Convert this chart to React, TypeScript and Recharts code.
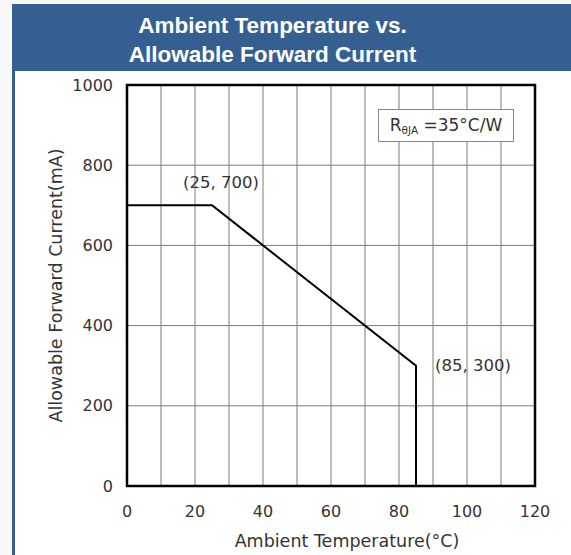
import React from "react";
import {
  CartesianGrid,
  Label,
  Line,
  LineChart,
  ReferenceArea,
  ReferenceDot,
  XAxis,
  YAxis,
} from "recharts";

// derating curve: ambient temperature (°C) vs allowable forward current (mA)
const temps = [0, 25, 85, 85];
const currents = [700, 700, 300, 0];

const xTicks = [0, 20, 40, 60, 80, 100, 120];
const yTicks = [0, 200, 400, 600, 800, 1000];
const xGrid = [0, 10, 20, 30, 40, 50, 60, 70, 80, 90, 100, 110, 120];

const kneeStart = { t: 25, i: 700, text: "(25, 700)" };
const kneeEnd = { t: 85, i: 300, text: "(85, 300)" };

const chartData = temps.map((t, idx) => ({ temp: t, current: currents[idx] }));

const FONT = "'DejaVu Sans', Verdana, sans-serif";
const INK = "#333";
const tickStyle = { fill: INK, fontSize: 16, fontFamily: FONT };
const titleStyle = { fill: INK, fontSize: 17.5, fontFamily: FONT };
const noteStyle = { fill: INK, fontSize: 16.5, fontFamily: FONT };

export default function App() {
  return (
    <div
      style={{
        position: "absolute",
        left: 0,
        top: 0,
        width: 571,
        height: 555,
        background: "#f8f8f8",
        overflow: "hidden",
      }}
    >
      {/* panel with header bar and left accent stripe */}
      <div
        style={{
          position: "absolute",
          left: 12,
          top: 4,
          width: 559,
          height: 551,
          background: "#fff",
          borderLeft: "3px solid #365f91",
          boxSizing: "border-box",
        }}
      />
      <div
        style={{
          position: "absolute",
          left: 12,
          top: 4,
          width: 521,
          height: 67,
          background: "#365f91",
          color: "#fff",
          fontFamily: "'Liberation Sans', Arial, sans-serif",
          fontWeight: "bold",
          fontSize: 22.5,
          lineHeight: "29px",
          textAlign: "center",
          paddingTop: 7,
          boxSizing: "border-box",
        }}
      >
        Ambient Temperature vs.
        <br />
        Allowable Forward Current
      </div>
      <div
        style={{
          position: "absolute",
          left: 533,
          top: 4,
          width: 38,
          height: 67,
          background: "#365f91",
        }}
      />

      <div style={{ position: "absolute", left: 0, top: 0 }}>
        <LineChart
          width={571}
          height={555}
          data={chartData}
          margin={{ top: 85, right: 36, bottom: 39, left: 67 }}
        >
          <CartesianGrid
            stroke="#7a7a7a"
            strokeWidth={1}
            verticalValues={xGrid}
            horizontalValues={yTicks}
          />
          <XAxis
            dataKey="temp"
            type="number"
            domain={[0, 120]}
            ticks={xTicks}
            tick={tickStyle}
            tickLine={false}
            axisLine={false}
            tickMargin={14}
            height={30}
            interval={0}
          >
            <Label
              value="Ambient Temperature(°C)"
              position="bottom"
              offset={19}
              dx={16}
              style={titleStyle}
            />
          </XAxis>
          <YAxis
            type="number"
            domain={[0, 1000]}
            ticks={yTicks}
            tick={tickStyle}
            tickLine={false}
            axisLine={false}
            tickMargin={8}
            width={60}
            interval={0}
          >
            <Label
              value="Allowable Forward Current(mA)"
              angle={-90}
              position="center"
              dx={-41}
              style={{ ...titleStyle, textAnchor: "middle" }}
            />
          </YAxis>
          <ReferenceArea
            x1={0}
            x2={120}
            y1={0}
            y2={1000}
            fill="none"
            fillOpacity={0}
            stroke="#000"
            strokeWidth={2.5}
          />
          <Line
            type="linear"
            dataKey="current"
            stroke="#000"
            strokeWidth={2}
            dot={false}
            activeDot={false}
            isAnimationActive={false}
          />
          <ReferenceDot x={kneeStart.t} y={kneeStart.i} r={0} fill="none" stroke="none">
            <Label value={kneeStart.text} position="top" offset={17} dx={9} style={noteStyle} />
          </ReferenceDot>
          <ReferenceDot x={kneeEnd.t} y={kneeEnd.i} r={0} fill="none" stroke="none">
            <Label value={kneeEnd.text} position="right" offset={19} dy={-1} style={noteStyle} />
          </ReferenceDot>
        </LineChart>
      </div>

      {/* thermal resistance note */}
      <div
        style={{
          position: "absolute",
          left: 378,
          top: 109,
          width: 136,
          height: 33,
          boxSizing: "border-box",
          border: "1px solid #888",
          background: "#fff",
          fontFamily: FONT,
          fontSize: 17,
          color: INK,
          lineHeight: "31px",
          textAlign: "center",
          whiteSpace: "nowrap",
        }}
      >
        R<sub style={{ fontSize: 10.5, verticalAlign: "-3px" }}>θJA</sub> =35°C/W
      </div>
    </div>
  );
}
